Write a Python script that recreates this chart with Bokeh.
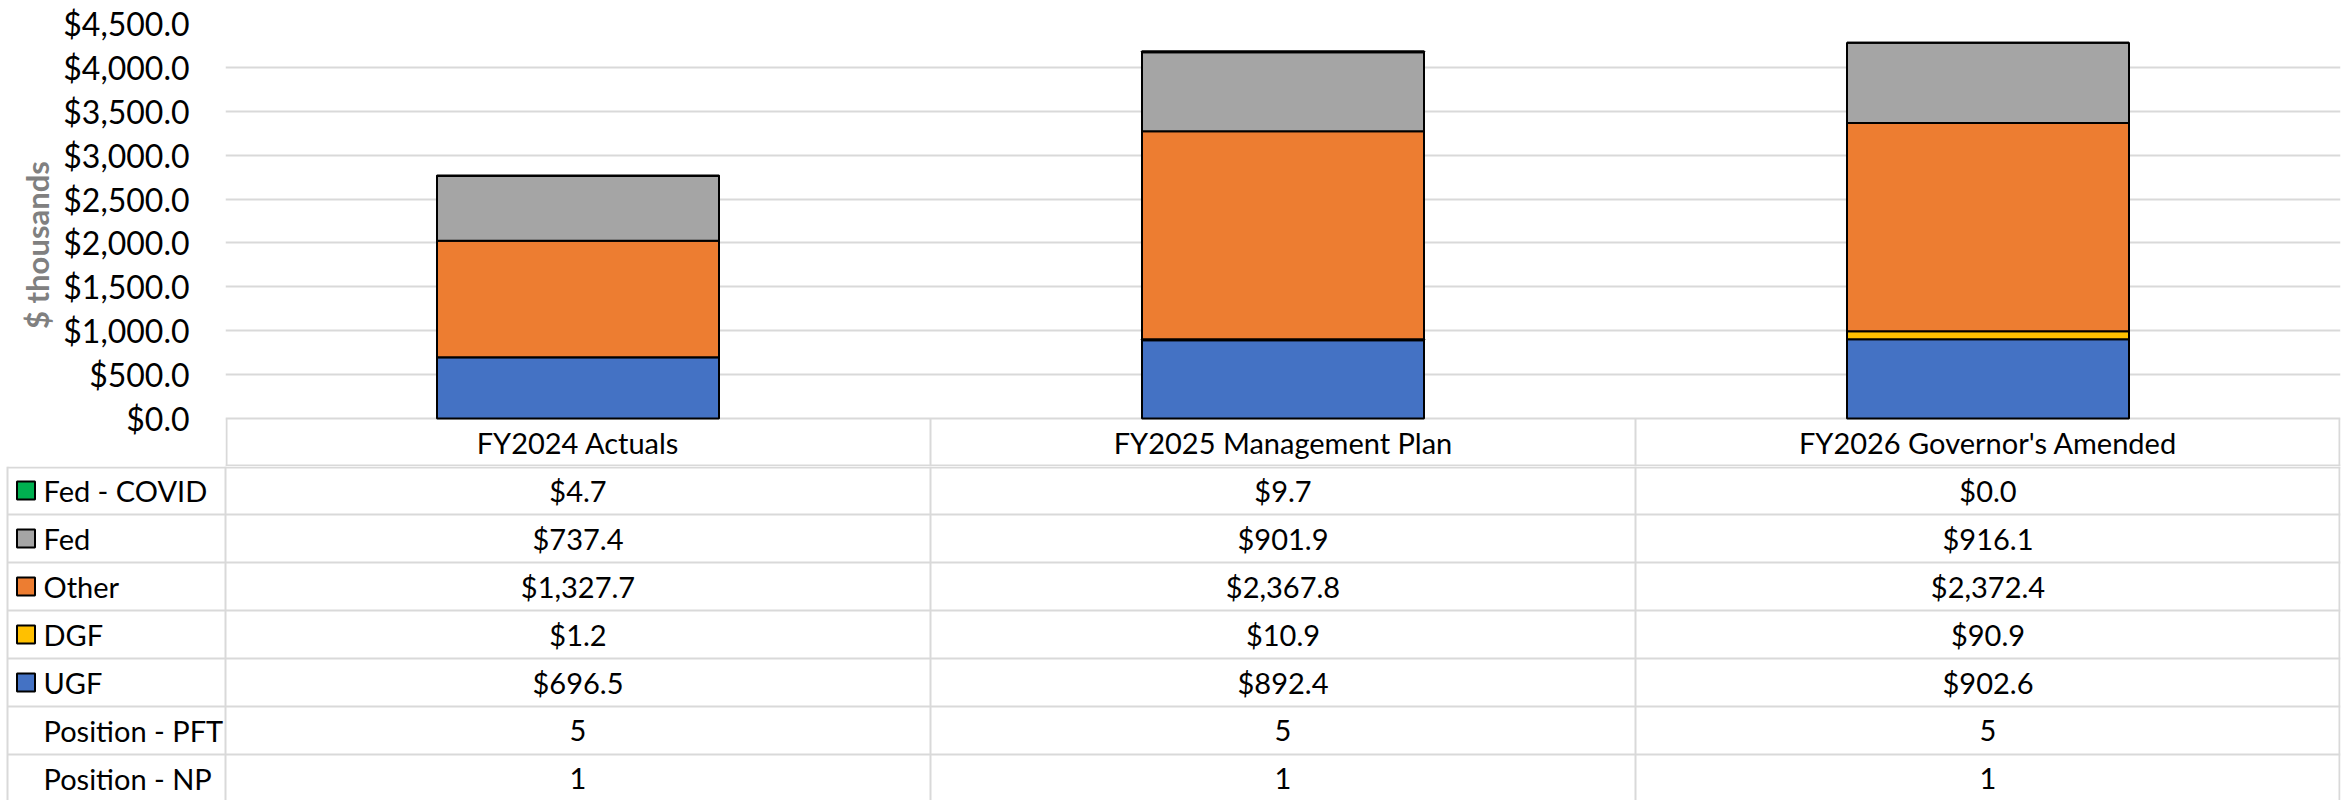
from bokeh.plotting import figure
from bokeh.layouts import column
from bokeh.models import Range1d, NumeralTickFormatter, FixedTicker, ColumnDataSource
from bokeh.core.properties import value
from bokeh.embed import file_html
from bokeh.resources import INLINE

# ---------------- data ----------------
categories = ["FY2024 Actuals", "FY2025 Management Plan", "FY2026 Governor's Amended"]
ugf = [696.5, 892.4, 902.6]
dgf = [1.2, 10.9, 90.9]
other = [1327.7, 2367.8, 2372.4]
fed = [737.4, 901.9, 916.1]
fed_covid = [4.7, 9.7, 0.0]
position_pft = [5, 5, 5]
position_np = [1, 1, 1]
y_ticks = [0, 500, 1000, 1500, 2000, 2500, 3000, 3500, 4000, 4500]

series_names = ["UGF", "DGF", "Other", "Fed", "Fed - COVID"]
series_values = [ugf, dgf, other, fed, fed_covid]
series_colors = ["#4472C4", "#FFC000", "#ED7D31", "#A5A5A5", "#00B050"]

FONT = "Lato"
FS_TICK = "32px"
FS_TABLE = "29px"
GRID = "#D9D9D9"

# ---------------- layout constants (pixels) ----------------
W = 2348
TOP_PX = 23          # frame top
ZERO_PX = 418        # y of the value 0 line
ROW_PX = 48.0        # table row height
CHART_H = int(ZERO_PX + ROW_PX)   # chart figure includes the header row
TABLE_H = 800 - CHART_H
COL_PX = 705.0
LEFT_PX = 225
RIGHT_PX = 8
label_w = LEFT_PX / COL_PX
ncat = len(categories)

ymax = y_ticks[-1]
units_per_px = ymax / (ZERO_PX - TOP_PX)
header_h = ROW_PX * units_per_px

# ---------------- chart (with header row) ----------------
p = figure(width=W, height=CHART_H, output_backend="svg", toolbar_location=None,
           x_range=Range1d(0, ncat), y_range=Range1d(-header_h, ymax),
           x_axis_location=None, y_axis_location="left",
           min_border_left=LEFT_PX, min_border_right=RIGHT_PX, min_border_top=TOP_PX,
           min_border_bottom=0)
p.frame_align = False
p.outline_line_color = None
p.background_fill_color = "white"
p.border_fill_color = "white"

data = {"x": [i + 0.5 for i in range(ncat)]}
keys = []
for i, (n, v) in enumerate(zip(series_names, series_values)):
    k = "s%d" % i
    data[k] = v
    keys.append(k)
src = ColumnDataSource(data)

p.ygrid.grid_line_color = GRID
p.ygrid.grid_line_width = 2
p.ygrid.ticker = FixedTicker(ticks=y_ticks)
p.xgrid.visible = False

# header cell borders
hx0, hy0, hx1, hy1 = [], [], [], []
for c in range(ncat + 1):
    xc = c + 1 / COL_PX if c == 0 else (c if c < ncat else ncat - 1 / COL_PX)
    hx0.append(xc); hy0.append(-header_h); hx1.append(xc); hy1.append(0)
hx0.append(0); hy0.append(-header_h + 1 * units_per_px); hx1.append(ncat); hy1.append(-header_h + 1 * units_per_px)
p.segment(x0=hx0, y0=hy0, x1=hx1, y1=hy1, line_color=GRID, line_width=2)

p.vbar_stack(keys, x="x", width=0.4, source=src, fill_color=series_colors,
             line_color="black", line_width=2)

p.text(x=[i + 0.5 for i in range(ncat)], y=[-header_h / 2] * ncat, text=categories,
       text_font=value(FONT), text_font_size=value(FS_TABLE), text_color="black",
       text_align="center", text_baseline="middle")

yax = p.yaxis[0]
yax.ticker = FixedTicker(ticks=y_ticks)
yax.formatter = NumeralTickFormatter(format="$0,0.0")
yax.axis_line_color = None
yax.major_tick_line_color = None
yax.minor_tick_line_color = None
yax.major_tick_in = 0
yax.major_tick_out = 0
yax.major_label_standoff = 36
yax.major_label_text_font = FONT
yax.major_label_text_font_size = FS_TICK
yax.major_label_text_color = "black"
yax.axis_label = "$ thousands"
yax.axis_label_text_font = FONT
yax.axis_label_text_font_size = "31px"
yax.axis_label_text_font_style = "bold"
yax.axis_label_text_color = "#808080"
yax.axis_label_standoff = 4

# ---------------- table body ----------------
t = figure(width=W, height=TABLE_H, output_backend="svg", toolbar_location=None,
           x_range=Range1d(-label_w, ncat), y_range=Range1d(TABLE_H / ROW_PX, 0),
           x_axis_location=None, y_axis_location=None,
           min_border=0, min_border_left=0, min_border_right=RIGHT_PX,
           min_border_top=0, min_border_bottom=0)
t.frame_align = False
t.outline_line_color = None
t.grid.visible = False
t.background_fill_color = "white"
t.border_fill_color = "white"

row_labels = ["Fed - COVID", "Fed", "Other", "DGF", "UGF", "Position - PFT", "Position - NP"]
row_values = [
    ["$" + format(v, ",.1f") for v in fed_covid],
    ["$" + format(v, ",.1f") for v in fed],
    ["$" + format(v, ",.1f") for v in other],
    ["$" + format(v, ",.1f") for v in dgf],
    ["$" + format(v, ",.1f") for v in ugf],
    [str(v) for v in position_pft],
    [str(v) for v in position_np],
]
row_swatch = ["#00B050", "#A5A5A5", "#ED7D31", "#FFC000", "#4472C4", None, None]
nrows = len(row_labels)
bottom = nrows + 0.5

left_edge = -label_w + 7 / COL_PX
x0s, y0s, x1s, y1s = [], [], [], []
x0s.append(left_edge); y0s.append(1 / ROW_PX); x1s.append(ncat); y1s.append(1 / ROW_PX)
for r in range(1, nrows):
    x0s.append(left_edge); y0s.append(r); x1s.append(ncat); y1s.append(r)
x0s.append(left_edge); y0s.append(0); x1s.append(left_edge); y1s.append(bottom)
for c in range(ncat + 1):
    xc = c if c < ncat else ncat - 1 / COL_PX
    x0s.append(xc); y0s.append(0); x1s.append(xc); y1s.append(bottom)
t.segment(x0=x0s, y0=y0s, x1=x1s, y1=y1s, line_color=GRID, line_width=2)

cx, cy, ct = [], [], []
for r, vals in enumerate(row_values):
    for c, s in enumerate(vals):
        cx.append(c + 0.5); cy.append(r + 0.5); ct.append(s)
t.text(x=cx, y=cy, text=ct, text_font=value(FONT), text_font_size=value(FS_TABLE),
       text_color="black", text_align="center", text_baseline="middle")

t.text(x=[-label_w + 43 / COL_PX] * nrows, y=[r + 0.5 for r in range(nrows)], text=row_labels,
       text_font=value(FONT), text_font_size=value(FS_TABLE), text_color="black",
       text_align="left", text_baseline="middle")

sx, sy, sc = [], [], []
for r, col in enumerate(row_swatch):
    if col is not None:
        sx.append(-label_w + 25.5 / COL_PX); sy.append(r + 0.5); sc.append(col)
t.rect(x=sx, y=sy, width=18, height=18, width_units="screen", height_units="screen",
       fill_color=sc, line_color="black", line_width=2)

layout = column(p, t, spacing=0)
open("out.html", "w").write(file_html(layout, INLINE))
